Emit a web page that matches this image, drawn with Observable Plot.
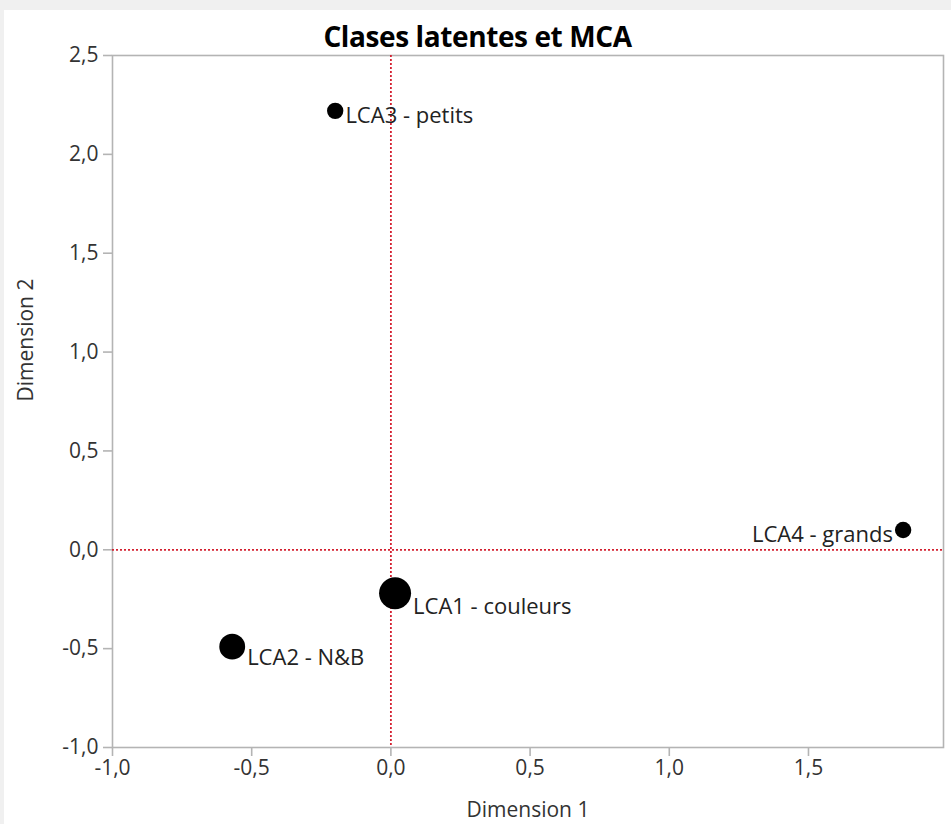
<!DOCTYPE html>
<html>
<head>
<meta charset="utf-8">
<script src="https://cdn.jsdelivr.net/npm/d3@7"></script>
<script src="https://cdn.jsdelivr.net/npm/@observablehq/plot@0.6"></script>
<style>
  html, body { margin: 0; padding: 0; background: #f0f0f0; }
  #panel { position: absolute; left: 4px; top: 10px; width: 947px; height: 814px; background: #fff; }
  #title { height: 40px; line-height: 52px; text-align: center; font-family: "Open Sans", sans-serif; font-weight: 700; font-size: 28px; color: #000; letter-spacing: -0.4px; white-space: nowrap; }
  svg { display: block; }
</style>
</head>
<body>
<div id="panel">
  <div id="title">Clases latentes et MCA</div>
  <div id="chart"></div>
</div>
<script>
const classes = ["LCA1 - couleurs", "LCA2 - N&B", "LCA3 - petits", "LCA4 - grands"];
const dim1 = [0.015, -0.57, -0.20, 1.84];
const dim2 = [-0.22, -0.49, 2.22, 0.10];
const classShare = [0.46, 0.30, 0.12, 0.12];
const xTicks = [-1.0, -0.5, 0.0, 0.5, 1.0, 1.5];
const yTicks = [-1.0, -0.5, 0.0, 0.5, 1.0, 1.5, 2.0, 2.5];
const xLabel = "Dimension 1";
const yLabel = "Dimension 2";

const data = classes.map((c, i) => ({name: c, x: dim1[i], y: dim2[i], share: classShare[i]}));
const fmt = v => v.toFixed(1).replace(".", ",");
const rScale = d3.scaleSqrt().domain([0, d3.max(classShare)]).range([0, 16]);
const font = "'Open Sans', sans-serif";

const chart = Plot.plot({
  width: 947,
  height: 774,
  marginTop: 5,
  marginBottom: 77,
  marginLeft: 108,
  marginRight: 8,
  style: { fontFamily: font, fontSize: "21px", color: "#333", background: "#fff", overflow: "visible" },
  x: { domain: [-1.0, 1.985] },
  y: { domain: [-1.0, 2.5] },
  r: { type: "identity" },
  marks: [
    Plot.frame({ stroke: "#b4b4b4", strokeWidth: 1.6 }),
    Plot.axisX({ ticks: xTicks, tickFormat: fmt, tickSize: 9, tickPadding: 4, stroke: "#b4b4b4", strokeWidth: 1.6, fill: "#333", fontSize: 21, label: null }),
    Plot.axisY({ ticks: yTicks, tickFormat: fmt, tickSize: 9, tickPadding: 5, stroke: "#b4b4b4", strokeWidth: 1.6, fill: "#333", fontSize: 21, label: null }),
    Plot.text([xLabel], { frameAnchor: "bottom", dy: 63, lineAnchor: "middle", fill: "#333", fontSize: 21 }),
    Plot.text([yLabel], { frameAnchor: "left", dx: -86, rotate: -90, lineAnchor: "middle", fill: "#333", fontSize: 21 }),
    Plot.ruleX([0], { stroke: "#d42030", strokeWidth: 1.8, strokeDasharray: "2,2" }),
    Plot.ruleY([0], { stroke: "#d42030", strokeWidth: 1.8, strokeDasharray: "2,2" }),
    Plot.dot(data, { x: "x", y: "y", r: d => rScale(d.share), fill: "#000", stroke: "none" }),
    ...data.map(d => {
      const r = rScale(d.share);
      const right = d.x < 1.5;
      return Plot.text([d], {
        x: "x", y: "y", text: "name",
        textAnchor: right ? "start" : "end",
        dx: right ? r + 2 : -(r + 2),
        dy: Math.round(r * 1.2 - 5),
        fill: "#222", fontSize: 22
      });
    })
  ]
});
document.getElementById("chart").appendChild(chart);
</script>
</body>
</html>
